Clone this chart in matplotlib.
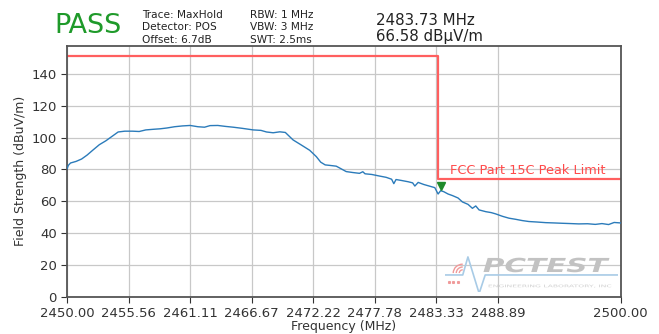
import matplotlib
matplotlib.use("Agg")
import matplotlib.pyplot as plt
from matplotlib import transforms
from matplotlib.patches import Arc, PathPatch
from matplotlib.textpath import TextPath
from matplotlib.font_manager import FontProperties

# Measured trace (MaxHold)
freq_mhz = [2450.0, 2450.1, 2450.3, 2450.8, 2451.3, 2451.8, 2452.3, 2452.9, 2453.5, 2454.1,
            2454.6, 2455.2, 2455.9, 2456.5, 2457.1, 2457.8, 2458.4, 2459.0, 2459.7, 2460.4,
            2461.1, 2461.8, 2462.4, 2462.9, 2463.6, 2464.3, 2465.0, 2465.8, 2466.8, 2467.5,
            2468.0, 2468.6, 2469.2, 2469.7, 2470.4, 2471.1, 2471.9, 2472.5, 2472.9, 2473.3,
            2473.7, 2474.3, 2474.7, 2475.2, 2475.8, 2476.4, 2476.7, 2476.9, 2477.5, 2478.2,
            2478.8, 2479.3, 2479.5, 2479.7, 2480.2, 2480.8, 2481.2, 2481.4, 2481.7, 2482.2,
            2482.7, 2483.2, 2483.5, 2483.73, 2484.0, 2484.4, 2484.8, 2485.3, 2485.7, 2486.2,
            2486.6, 2486.9, 2487.2, 2487.8, 2488.3, 2488.7, 2489.3, 2489.9, 2490.5, 2491.1,
            2491.7, 2492.4, 2493.2, 2494.0, 2494.7, 2495.5, 2496.2, 2497.0, 2497.7, 2498.3,
            2498.9, 2499.4, 2500.0]
level_dbuv = [80.5, 82.5, 84.0, 85.0, 86.5, 89.0, 92.0, 95.5, 98.0, 101.0,
              103.5, 104.0, 104.0, 103.8, 104.8, 105.2, 105.5, 106.0, 106.8, 107.3,
              107.6, 106.8, 106.5, 107.5, 107.6, 107.0, 106.5, 105.8, 104.8, 104.5,
              103.5, 103.0, 103.6, 103.2, 98.5, 95.5, 92.0, 88.0, 84.5, 82.8,
              82.5, 82.0, 80.5, 78.6, 78.0, 77.5, 78.5, 77.2, 76.8, 75.8,
              75.0, 73.8, 71.0, 73.6, 73.0, 72.2, 71.5, 69.5, 71.8, 70.5,
              69.5, 68.5, 64.5, 66.58, 66.0, 64.5, 63.5, 62.0, 59.5, 58.0,
              55.5, 57.0, 54.5, 53.4, 52.8, 52.0, 50.5, 49.3, 48.6, 47.8,
              47.2, 46.9, 46.5, 46.3, 46.1, 45.9, 45.7, 45.8, 45.4, 45.9,
              45.3, 46.6, 46.3]

# FCC Part 15C peak limit (step)
limit_freq = [2450.0, 2483.5, 2483.5, 2500.0]
limit_level = [151.0, 151.0, 74.0, 74.0]

# Marker
marker_freq = 2483.73
marker_level = 66.58

xticks = [2450.00, 2455.56, 2461.11, 2466.67, 2472.22, 2477.78, 2483.33, 2488.89, 2500.00]
yticks = [0, 20, 40, 60, 80, 100, 120, 140]

fig = plt.figure(figsize=(6.59, 3.34), dpi=100)
ax = fig.add_axes([0.102, 0.112, 0.840, 0.750])

ax.plot(freq_mhz, level_dbuv, color="#2b7bba", linewidth=1.0, zorder=3)
ax.plot(limit_freq, limit_level, color="#ff5f5f", linewidth=1.6, zorder=2)
ax.text(2484.6, 75.5, "FCC Part 15C Peak Limit", color="#ff4a4a", fontsize=9.3,
        va="bottom", ha="left", zorder=4)

mk_trans = transforms.offset_copy(ax.transData, fig=fig, x=0, y=3.5, units="points")
ax.plot([marker_freq], [marker_level], marker="v", color="#1e8a2a", markersize=6,
        linestyle="none", transform=mk_trans, zorder=5)

ax.set_xlim(2450, 2500)
ax.set_ylim(0, 157.5)
ax.set_xticks(xticks)
ax.set_xticklabels([f"{t:.2f}" for t in xticks])
ax.set_yticks(yticks)
ax.tick_params(labelsize=9.5, colors="#333333", length=4)
ax.grid(True, color="#c8c8c8", linewidth=0.9)
ax.set_axisbelow(True)
for s in ax.spines.values():
    s.set_color("#555555")
    s.set_linewidth(1.3)
ax.set_xlabel("Frequency (MHz)", fontsize=9, color="#333333", labelpad=0)
ax.set_ylabel("Field Strength (dBuV/m)", fontsize=9, color="#333333", labelpad=3)

# Header
fig.text(0.082, 0.922, "PASS", color="#1f9a2a", fontsize=19.5, va="center", ha="left")
hdr_left = ["Trace: MaxHold", "Detector: POS", "Offset: 6.7dB"]
hdr_mid = ["RBW: 1 MHz", "VBW: 3 MHz", "SWT: 2.5ms"]
for i, (a, b) in enumerate(zip(hdr_left, hdr_mid)):
    y = 0.955 - i * 0.037
    fig.text(0.215, y, a, fontsize=7.6, color="#222222", va="center", ha="left")
    fig.text(0.380, y, b, fontsize=7.6, color="#222222", va="center", ha="left")
fig.text(0.570, 0.940, "2483.73 MHz", fontsize=10.8, color="#222222", va="center", ha="left")
fig.text(0.570, 0.892, "66.58 dB\u00b5V/m", fontsize=10.8, color="#222222", va="center", ha="left")

# Watermark logo
logo = fig.add_axes([0.676, 0.125, 0.262, 0.115])
logo.set_xlim(0, 1)
logo.set_ylim(0, 1)
logo.axis("off")


def fitted_text(axes, s, box, color, prop):
    tp = TextPath((0, 0), s, size=10, prop=prop)
    ext = tp.get_extents()
    x0, y0, x1, y1 = box
    tr = (transforms.Affine2D()
          .translate(-ext.x0, -ext.y0)
          .scale((x1 - x0) / ext.width, (y1 - y0) / ext.height)
          .translate(x0, y0))
    axes.add_patch(PathPatch(tr.transform_path(tp), facecolor=color, edgecolor="none",
                             transform=axes.transData))


logo.plot([0.0, 0.1, 0.13, 0.195, 0.23, 1.0], [0.45, 0.45, 0.92, -0.03, 0.45, 0.45],
          color="#a8cbe6", linewidth=1.2)
for r in (0.04, 0.075, 0.11):
    logo.add_patch(Arc((0.1, 0.5), r * 1.0, r * 4.2, theta1=90, theta2=180,
                       color="#f09a9a", linewidth=1.0))
logo.plot([0.02, 0.045, 0.07], [0.27, 0.27, 0.27], linestyle="none", marker="s",
          markersize=1.2, color="#f09a9a")
fitted_text(logo, "PCTEST", (0.22, 0.52, 0.95, 0.9), "#c2c2c2",
            FontProperties(family="DejaVu Sans", weight="bold", style="italic"))
fitted_text(logo, "ENGINEERING LABORATORY, INC", (0.25, 0.12, 0.96, 0.2), "#cfcfcf",
            FontProperties(family="DejaVu Sans"))

fig.savefig("out.png", dpi=100)
